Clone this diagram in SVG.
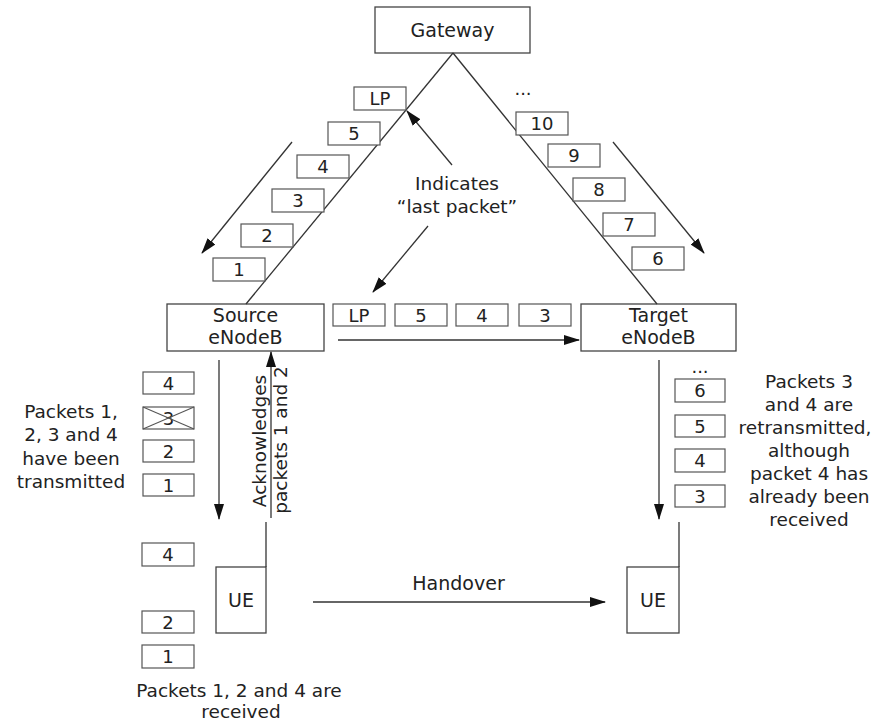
<svg xmlns="http://www.w3.org/2000/svg" width="875" height="723" viewBox="0 0 875 723">
  <style>
    text { font-family: "DejaVu Sans", "Liberation Sans", sans-serif; fill: #222; }
    .node { fill: #fff; stroke: #444; stroke-width: 1.3; }
    .pk rect { fill: #fff; stroke: #555; stroke-width: 1.2; }
    .pk text { font-size: 18px; text-anchor: middle; }
    .lbl { font-size: 19px; text-anchor: middle; }
    .note { font-size: 18.5px; text-anchor: middle; }
    .dots { font-size: 12px; text-anchor: middle; }
    .wire { fill: none; stroke: #333; stroke-width: 1.3; }
    .arrow { fill: none; stroke: #333; stroke-width: 1.3; marker-end: url(#head); }
  </style>
  <defs>
    <marker id="head" markerUnits="userSpaceOnUse" markerWidth="16" markerHeight="12" viewBox="0 0 16 12" refX="15" refY="6" orient="auto">
      <path d="M0,1 L16,6 L0,11 Z" fill="#111"/>
    </marker>
  </defs>
  <rect width="875" height="723" fill="#fff"/>

  <!-- network elements -->
  <g id="gateway">
    <rect class="node" x="375" y="7" width="155" height="46"/>
    <text class="lbl" x="452.5" y="37">Gateway</text>
  </g>
  <g id="source-enb">
    <rect class="node" x="167" y="304" width="157" height="47"/>
    <text class="lbl" x="245.5" y="322">Source</text>
    <text class="lbl" x="245.5" y="344">eNodeB</text>
  </g>
  <g id="target-enb">
    <rect class="node" x="581" y="304" width="155" height="47"/>
    <text class="lbl" x="658.5" y="322">Target</text>
    <text class="lbl" x="658.5" y="344">eNodeB</text>
  </g>
  <g id="ue-source">
    <rect class="node" x="216" y="567" width="50" height="66"/>
    <text class="lbl" x="241" y="607">UE</text>
  </g>
  <g id="ue-target">
    <rect class="node" x="627" y="567" width="52" height="66"/>
    <text class="lbl" x="653" y="607">UE</text>
  </g>

  <!-- links and flows -->
  <g id="connectors">
    <line class="wire" x1="453" y1="53" x2="246" y2="304"/>
    <line class="wire" x1="453" y1="53" x2="657" y2="304"/>
    <line class="arrow" x1="292" y1="142" x2="202" y2="253"/>
    <line class="arrow" x1="613" y1="142" x2="704" y2="253"/>
    <line class="arrow" x1="452" y1="165" x2="407" y2="111"/>
    <line class="arrow" x1="428" y1="226" x2="373" y2="292"/>
    <line class="arrow" x1="338" y1="340" x2="579" y2="340"/>
    <line class="arrow" x1="219" y1="360" x2="219" y2="519"/>
    <line class="arrow" x1="271" y1="518" x2="271" y2="352"/>
    <line class="wire" x1="266" y1="522" x2="266" y2="567"/>
    <line class="arrow" x1="659" y1="360" x2="659" y2="519"/>
    <line class="wire" x1="679" y1="522" x2="679" y2="567"/>
    <line class="arrow" x1="313" y1="602" x2="605" y2="602"/>
  </g>

  <!-- packets travelling to the source eNodeB -->
  <g id="packets-source" class="pk">
    <rect x="354" y="87" width="52" height="23"/><text x="380" y="105">LP</text>
    <rect x="328" y="122" width="52" height="23"/><text x="354" y="140">5</text>
    <rect x="297" y="155" width="52" height="23"/><text x="323" y="173">4</text>
    <rect x="272" y="189" width="52" height="23"/><text x="298" y="207">3</text>
    <rect x="241" y="224" width="52" height="23"/><text x="267" y="242">2</text>
    <rect x="213" y="258" width="52" height="23"/><text x="239" y="276">1</text>
  </g>

  <!-- packets travelling to the target eNodeB -->
  <g id="packets-target" class="pk">
    <text class="dots" x="523" y="95">...</text>
    <rect x="516" y="112" width="52" height="23"/><text x="542" y="130">10</text>
    <rect x="548" y="144" width="52" height="23"/><text x="574" y="162">9</text>
    <rect x="573" y="178" width="52" height="23"/><text x="599" y="196">8</text>
    <rect x="603" y="213" width="52" height="23"/><text x="629" y="231">7</text>
    <rect x="632" y="247" width="52" height="23"/><text x="658" y="265">6</text>
  </g>

  <!-- forwarded packets -->
  <g id="packets-forwarded" class="pk">
    <rect x="333" y="304" width="52" height="22"/><text x="359" y="321.5">LP</text>
    <rect x="395" y="304" width="52" height="22"/><text x="421" y="321.5">5</text>
    <rect x="456" y="304" width="52" height="22"/><text x="482" y="321.5">4</text>
    <rect x="519" y="304" width="52" height="22"/><text x="545" y="321.5">3</text>
  </g>

  <!-- packets sent by the source eNodeB -->
  <g id="packets-sent" class="pk">
    <rect x="143" y="372" width="51" height="22"/><text x="168.5" y="389.5">4</text>
    <rect x="143" y="407" width="51" height="22"/><text x="168.5" y="424.5">3</text>
    <line x1="143" y1="407" x2="194" y2="429" stroke="#555" stroke-width="1.1"/>
    <line x1="143" y1="429" x2="194" y2="407" stroke="#555" stroke-width="1.1"/>
    <rect x="143" y="440" width="51" height="22"/><text x="168.5" y="457.5">2</text>
    <rect x="143" y="474" width="51" height="22"/><text x="168.5" y="491.5">1</text>
  </g>

  <!-- packets received by the UE -->
  <g id="packets-received" class="pk">
    <rect x="142" y="543" width="52" height="23"/><text x="168" y="561">4</text>
    <rect x="142" y="611" width="52" height="22"/><text x="168" y="628.5">2</text>
    <rect x="142" y="645" width="52" height="23"/><text x="168" y="663">1</text>
  </g>

  <!-- packets sent by the target eNodeB -->
  <g id="packets-retx" class="pk">
    <text class="dots" x="700" y="373">...</text>
    <rect x="675" y="379" width="50" height="23"/><text x="700" y="397">6</text>
    <rect x="675" y="415" width="50" height="22"/><text x="700" y="432.5">5</text>
    <rect x="675" y="449" width="50" height="23"/><text x="700" y="467">4</text>
    <rect x="675" y="485" width="50" height="22"/><text x="700" y="502.5">3</text>
  </g>

  <!-- annotations -->
  <g id="labels">
    <text class="note" x="457" y="190">Indicates</text>
    <text class="note" x="457" y="213">“last packet”</text>

    <text class="note" x="71" y="418">Packets 1,</text>
    <text class="note" x="71" y="441">2, 3 and 4</text>
    <text class="note" x="71" y="465">have been</text>
    <text class="note" x="71" y="488">transmitted</text>

    <text class="note" font-size="17.5" transform="translate(266,441) rotate(-90)" x="0" y="0">Acknowledges</text>
    <text class="note" font-size="17.5" transform="translate(287,440) rotate(-90)" x="0" y="0">packets 1 and 2</text>

    <text class="note" x="809" y="388">Packets 3</text>
    <text class="note" x="809" y="411">and 4 are</text>
    <text class="note" x="805" y="434">retransmitted,</text>
    <text class="note" x="809" y="457">although</text>
    <text class="note" x="809" y="480">packet 4 has</text>
    <text class="note" x="809" y="503">already been</text>
    <text class="note" x="809" y="526">received</text>

    <text class="lbl" x="458.5" y="590">Handover</text>

    <text class="note" x="239" y="697">Packets 1, 2 and 4 are</text>
    <text class="note" x="241" y="718">received</text>
  </g>
</svg>
